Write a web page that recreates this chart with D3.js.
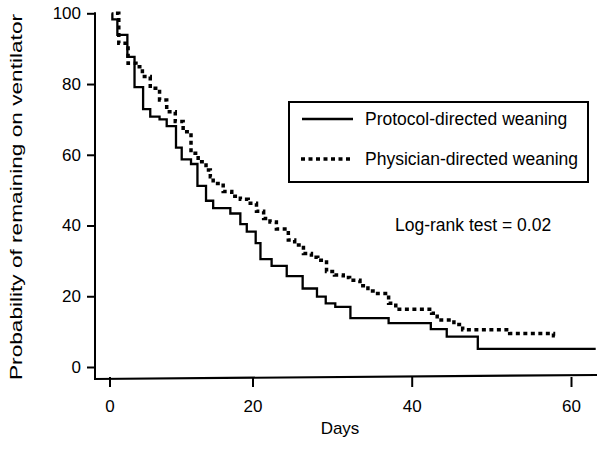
<!DOCTYPE html>
<html><head><meta charset="utf-8">
<script src="https://cdn.jsdelivr.net/npm/d3@7"></script>
<style>
body{margin:0;background:#fff}
svg{display:block}
text{font-family:"Liberation Sans",Arial,Helvetica,sans-serif;fill:#000}
</style>
</head><body>
<svg id="chart" width="600" height="450"></svg>
<script>
// ---- data ----
const xTicks = [0, 20, 40, 60];
const yTicks = [0, 20, 40, 60, 80, 100];
const seriesNames = ["Protocol-directed weaning", "Physician-directed weaning"];

const protocolDays = [0.3,0.4,1.1,2.5,3.5,4.7,5.7,7.0,8.0,9.3,10.1,11.4,12.3,13.5,14.5,16.9,18.3,19.2,20.4,21.0,22.4,24.3,26.3,28.1,29.2,30.4,32.3,37.1,42.4,44.4,48.3,63.1];
const protocolSurv = [100,98.3,93.9,87.7,79.1,72.9,70.8,70.0,68.1,62.0,58.7,57.4,51.2,47.0,44.9,43.4,40.4,38.3,35.0,30.5,28.6,25.7,22.2,19.9,18.0,17.0,13.8,12.4,10.7,8.6,5.1,5.1];

const physicianDays = [0.9,1.3,2.6,3.7,4.6,5.7,7.0,8.0,9.2,10.3,11.4,12.4,13.5,14.1,14.5,15.9,17.1,18.3,19.4,20.5,21.4,22.2,23.0,24.5,25.3,26.4,27.4,28.2,29.3,30.3,31.4,32.2,33.5,34.5,35.4,37.1,38.0,42.5,43.2,45.3,46.4,52.3,57.8,58.3];
const physicianSurv = [100,91.5,85.9,84.9,82.1,78.8,75.5,72.2,69.4,66.5,60.4,58.0,55.7,53.8,51.9,49.6,48.3,47.4,46.3,44.0,42.0,41.0,39.0,35.9,34.5,32.1,31.0,30.2,27.0,26.0,25.3,24.5,23.0,21.5,20.8,18.0,16.3,15.2,13.3,12.0,10.5,9.5,8.8,8.8];

const xTitle = "Days";
const yTitle = "Probability of remaining on ventilator";
const note = "Log-rank test = 0.02";

// ---- drawing ----
const svg = d3.select("#chart");
svg.append("rect").attr("width",600).attr("height",450).attr("fill","#fff");

const x = d3.scaleLinear().domain([0,20,40,60]).range([109.5,252.5,411.7,571]);
const y = d3.scaleLinear().domain([0,100]).range([367,13.3]);

const axisY0 = 377;   // x-axis baseline
const axisX0 = 95;    // y-axis position

// y axis
const gy = svg.append("g").attr("transform",`translate(${axisX0},0)`)
  .call(d3.axisLeft(y).tickValues(yTicks).tickSize(8).tickPadding(6).tickFormat(d3.format("d")));
gy.select(".domain").remove();
gy.selectAll("line").attr("stroke","#000").attr("stroke-width",2);
gy.selectAll("text").attr("font-size",17).style("font-family",'"Liberation Sans",Arial,sans-serif');

// x axis
const gx = svg.append("g").attr("transform",`translate(0,${axisY0})`)
  .call(d3.axisBottom(x).tickValues(xTicks).tickSize(10).tickPadding(13).tickFormat(d3.format("d")));
gx.select(".domain").remove();
gx.selectAll("line").attr("stroke","#000").attr("stroke-width",2);
gx.selectAll("text").attr("font-size",17).style("font-family",'"Liberation Sans",Arial,sans-serif');

// axis lines
svg.append("line").attr("x1",axisX0).attr("x2",axisX0).attr("y1",y(100)-1).attr("y2",axisY0+2)
  .attr("stroke","#000").attr("stroke-width",2);
svg.append("line").attr("x1",axisX0-1).attr("x2",597).attr("y1",axisY0+2).attr("y2",axisY0-2)
  .attr("stroke","#000").attr("stroke-width",2.2);

// titles
svg.append("text").attr("x",340).attr("y",434).attr("text-anchor","middle").attr("font-size",17).text(xTitle);
svg.append("text").attr("transform","translate(22,197) rotate(-90)").attr("text-anchor","middle")
  .attr("font-size",17).attr("textLength",366).attr("lengthAdjust","spacingAndGlyphs").text(yTitle);

// curves
const line = d3.line().x(d=>x(d[0])).y(d=>y(d[1])).curve(d3.curveStepAfter);
const protocol = protocolDays.map((d,i)=>[d,protocolSurv[i]]);
const physician = physicianDays.map((d,i)=>[d,physicianSurv[i]]);

svg.append("path").datum(physician).attr("d",line).attr("fill","none")
  .attr("stroke","#000").attr("stroke-width",3.5).attr("stroke-dasharray","4,3.5");
svg.append("path").datum(protocol).attr("d",line).attr("fill","none")
  .attr("stroke","#000").attr("stroke-width",2.3);

// legend
svg.append("rect").attr("x",289).attr("y",102).attr("width",299).attr("height",80)
  .attr("fill","#fff").attr("stroke","#000").attr("stroke-width",2);
const legY = [119, 159];
svg.append("line").attr("x1",302).attr("x2",353).attr("y1",legY[0]).attr("y2",legY[0])
  .attr("stroke","#000").attr("stroke-width",2.3);
svg.append("line").attr("x1",301).attr("x2",352).attr("y1",legY[1]).attr("y2",legY[1])
  .attr("stroke","#000").attr("stroke-width",3.5).attr("stroke-dasharray","4,3.5");
seriesNames.forEach((n,i)=>{
  svg.append("text").attr("x",365).attr("y",legY[i]+6).attr("font-size",17.5).text(n);
});

svg.append("text").attr("x",395).attr("y",231).attr("font-size",17.5).text(note);
</script>
</body></html>
